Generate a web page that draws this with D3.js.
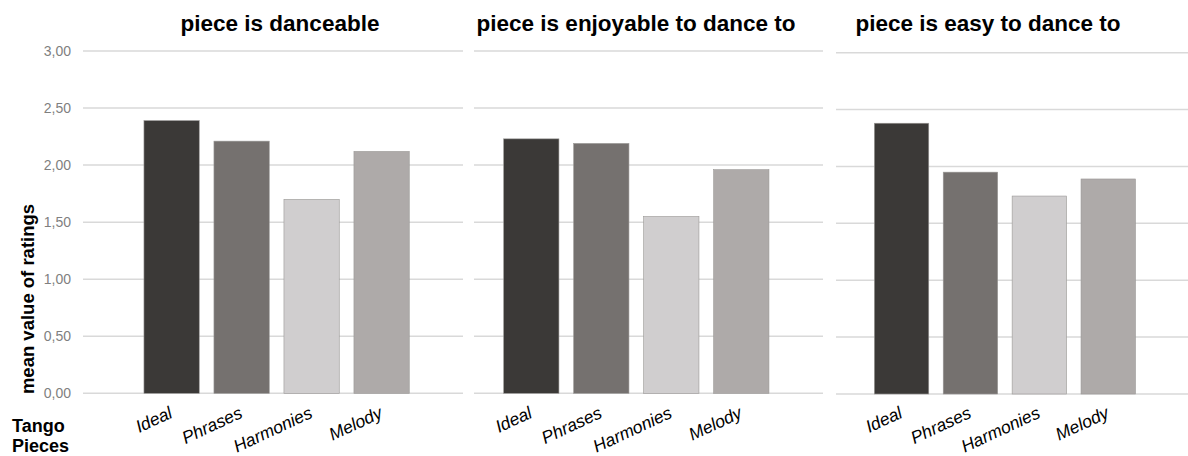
<!DOCTYPE html>
<html>
<head>
<meta charset="utf-8">
<script src="https://cdn.jsdelivr.net/npm/d3@7"></script>
<style>
  body { margin: 0; background: #fff; }
  svg { font-family: "Liberation Sans", Arial, sans-serif; }
</style>
</head>
<body>
<svg id="chart" width="1188" height="456"></svg>
<script>
// data
const categories = ["Ideal", "Phrases", "Harmonies", "Melody"];
const panelTitles = ["piece is danceable", "piece is enjoyable to dance to", "piece is easy to dance to"];
const danceable = [2.39, 2.21, 1.70, 2.12];
const enjoyable = [2.23, 2.19, 1.55, 1.96];
const easy = [2.38, 1.95, 1.74, 1.89];
const yTicks = [0, 0.5, 1, 1.5, 2, 2.5, 3];

const barColors = ["#3b3937", "#75716f", "#d0cecf", "#aeaaa9"];

// layout of each panel (grid extent and bar band extent)
const panels = [
  {values: danceable, gx0: 83, gx1: 463, bx0: 136.6, bx1: 416.6, yTop: 51, yBot: 393.3, tx: 280},
  {values: enjoyable, gx0: 474, gx1: 823, bx0: 496.3, bx1: 776.3, yTop: 51, yBot: 393.3, tx: 636},
  {values: easy, gx0: 836, gx1: 1188, bx0: 867.1, bx1: 1142.7, yTop: 52.7, yBot: 394, tx: 988}
];

const svg = d3.select("#chart");
const fmt = d => d.toFixed(2).replace(".", ",");

panels.forEach(function(p, i){
  let y = d3.scaleLinear().domain([0, 3]).range([p.yBot, p.yTop]);
  let x = d3.scaleBand().domain(categories).range([p.bx0, p.bx1])
    .paddingInner(0.21).paddingOuter(0.105);

  let g = svg.append("g");

  // gridlines
  g.selectAll("line.grid").data(yTicks).enter().append("line")
    .attr("x1", p.gx0).attr("x2", p.gx1)
    .attr("y1", d => y(d)).attr("y2", d => y(d))
    .attr("stroke", "#d9d9d9").attr("stroke-width", 1.5);

  // bars
  g.selectAll("rect").data(p.values).enter().append("rect")
    .attr("x", (d, j) => x(categories[j]))
    .attr("width", x.bandwidth())
    .attr("y", d => y(d))
    .attr("height", d => y(0) - y(d))
    .attr("fill", (d, j) => barColors[j])
    .attr("stroke", "#9a9896").attr("stroke-width", 0.6);

  // category labels
  g.selectAll("text.cat").data(categories).enter().append("text")
    .attr("transform", d => "translate(" + (x(d) + x.bandwidth() / 2 + 2) + ",417) rotate(-25)")
    .attr("text-anchor", "end")
    .attr("font-size", 17.5).attr("font-style", "italic")
    .attr("fill", "#000")
    .text(d => d);

  // title
  g.append("text")
    .attr("x", p.tx).attr("y", 31)
    .attr("text-anchor", "middle")
    .attr("font-size", 22.5).attr("font-weight", "bold")
    .text(panelTitles[i]);

  // y axis tick labels only on the first panel
  if(i == 0){
    g.selectAll("text.tick").data(yTicks).enter().append("text")
      .attr("x", 71).attr("y", d => y(d) + 5)
      .attr("text-anchor", "end")
      .attr("font-size", 14).attr("fill", "#7f7f7f")
      .text(d => fmt(d));
  }
});

// axis titles
svg.append("text")
  .attr("transform", "translate(34,299) rotate(-90)")
  .attr("text-anchor", "middle")
  .attr("font-size", 18.5).attr("font-weight", "bold")
  .text("mean value of ratings");

svg.append("text").attr("x", 12).attr("y", 432)
  .attr("font-size", 18).attr("font-weight", "bold").text("Tango");
svg.append("text").attr("x", 12).attr("y", 452)
  .attr("font-size", 18).attr("font-weight", "bold").text("Pieces");
</script>
</body>
</html>
